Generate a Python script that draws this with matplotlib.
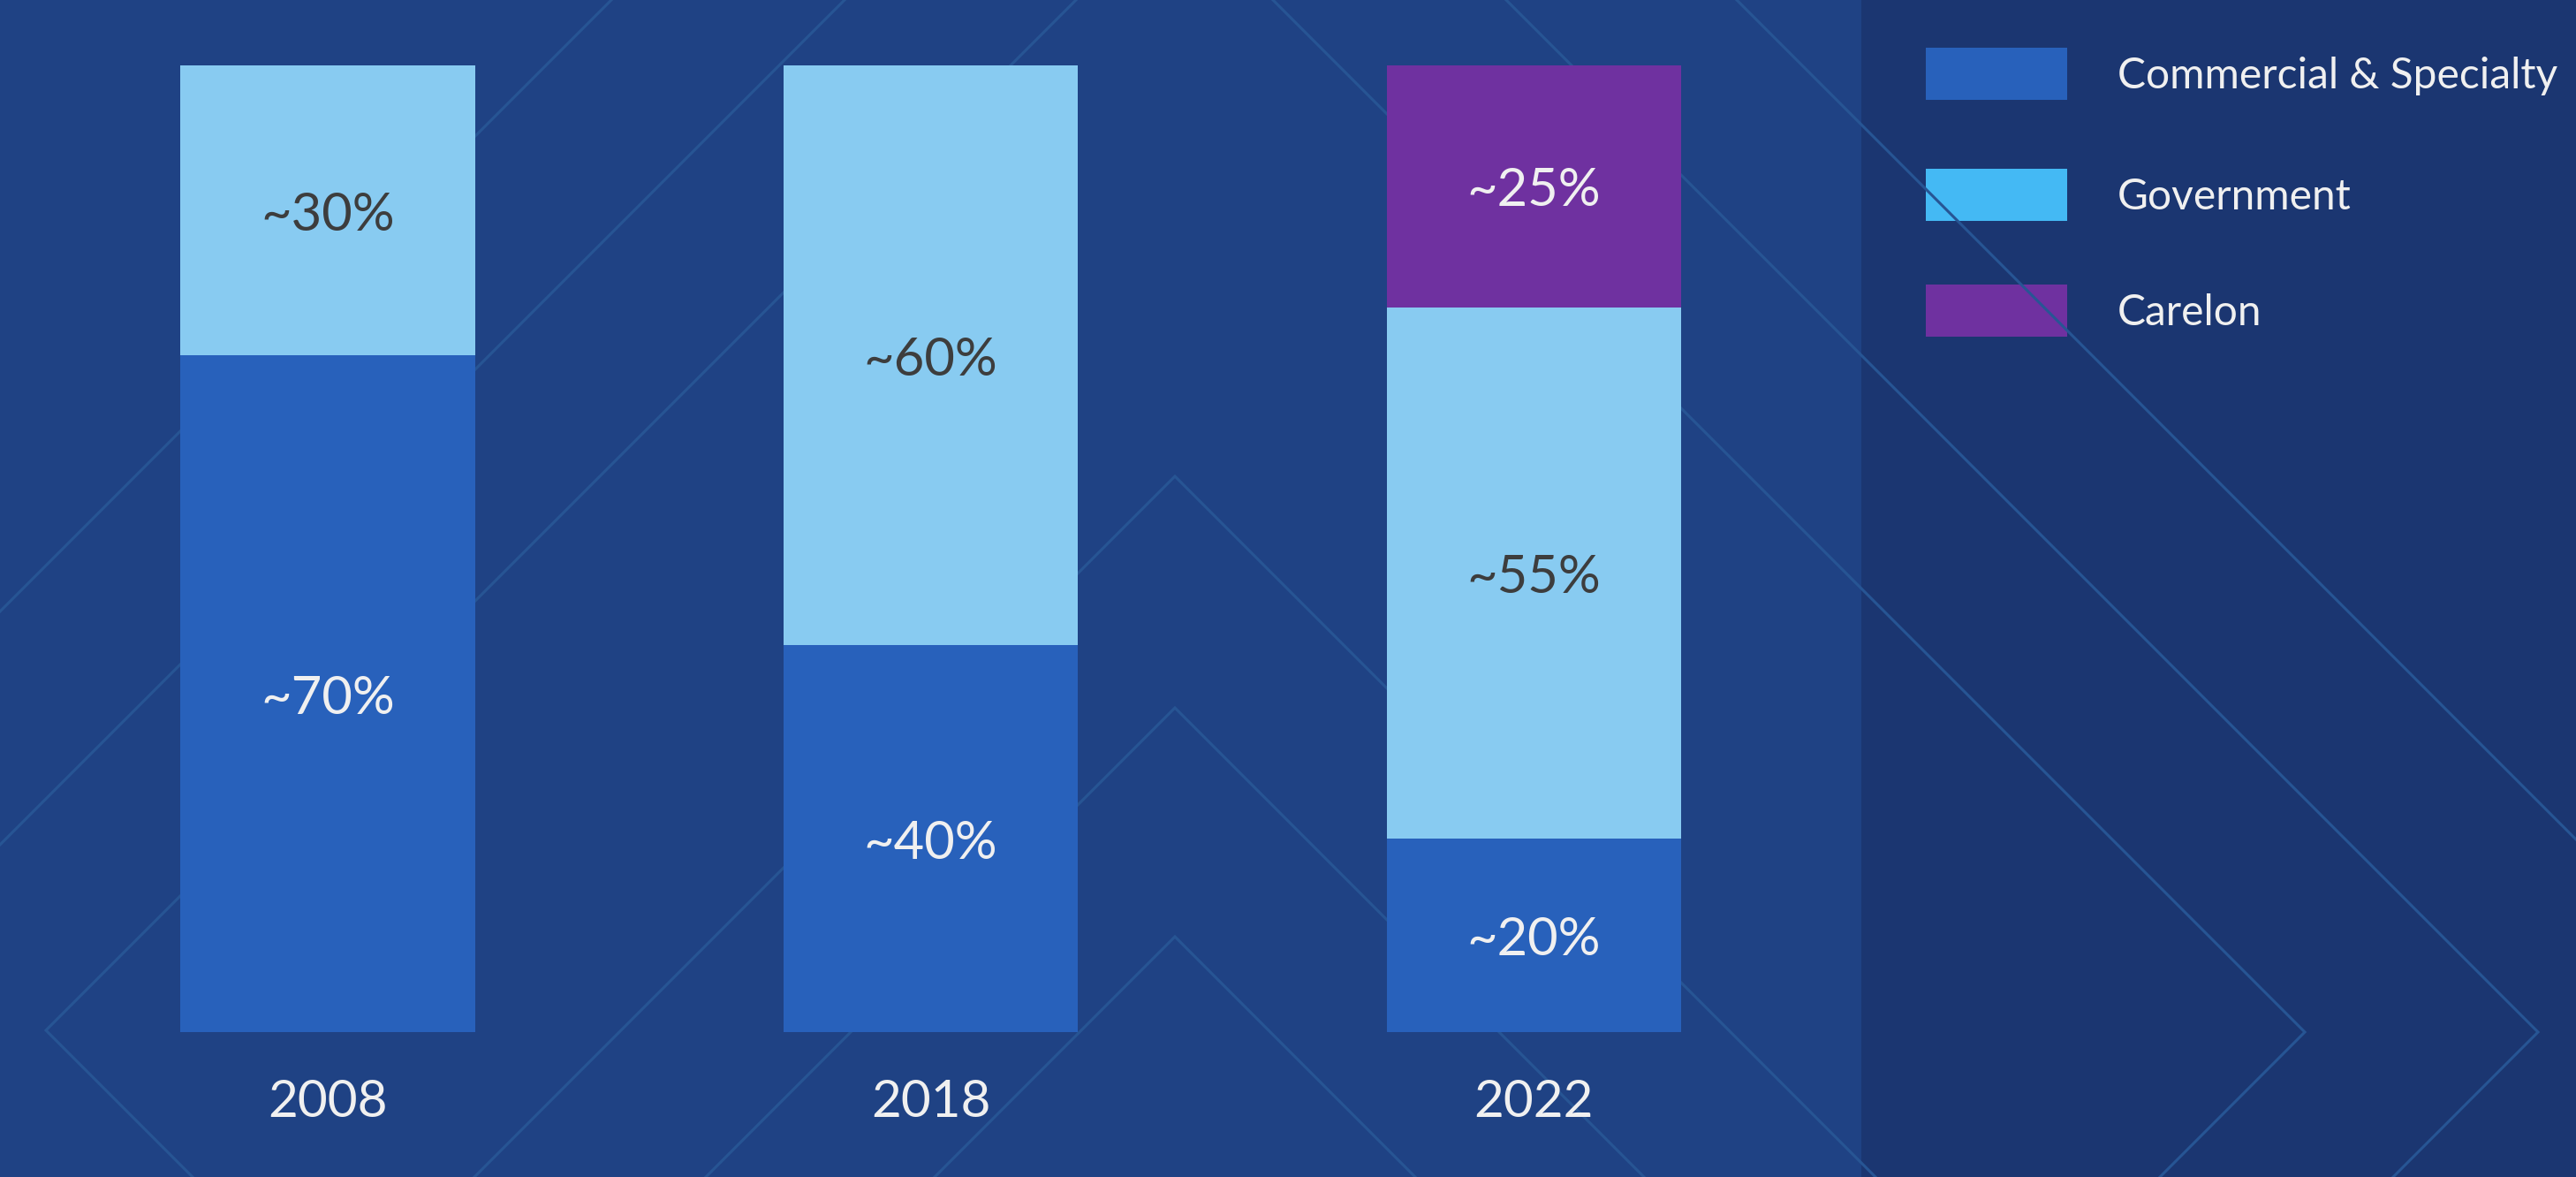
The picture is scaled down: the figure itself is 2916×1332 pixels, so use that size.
import matplotlib.pyplot as plt
from matplotlib.patches import Rectangle

plt.rcParams['font.family'] = ['Lato', 'DejaVu Sans']

years = ['2008', '2018', '2022']
commercial = [70, 40, 20]
government = [30, 60, 55]
carelon = [0, 0, 25]
series_names = ['Commercial & Specialty', 'Government', 'Carelon']

bg = '#1f4284'
panel = '#1b3671'
line_col = '#275594'
c_comm = '#2861bb'
c_gov = '#88cbf1'
c_gov_legend = '#44b9f4'
c_car = '#6f31a0'
dark_txt = '#3d3d3d'
light_txt = '#f0f0f0'

W, H = 2916, 1332
fig = plt.figure(figsize=(W / 100, H / 100), dpi=100)
fig.patch.set_facecolor(bg)

# background decoration in pixel coords
bgax = fig.add_axes([0, 0, 1, 1], zorder=0)
bgax.set_xlim(0, W)
bgax.set_ylim(H, 0)
bgax.axis('off')
bgax.add_patch(Rectangle((2107, 0), W - 2107, H, color=panel, lw=0))

deco = [
    [(0, 692), (692, 0)],
    [(0, 956), (956, 0)],
    [(218, 1332), (52, 1166), (1218, 0)],
    [(537, 1332), (1330, 539), (2123, 1332)],
    [(799, 1332), (1330, 801), (1861, 1332)],
    [(1058, 1332), (1330, 1060), (1602, 1332)],
    [(1441, 0), (2609, 1168), (2445, 1332)],
    [(1705, 0), (2873, 1168), (2709, 1332)],
    [(1966, 0), (2916, 950)],
]
for pts in deco:
    xs, ys = zip(*pts)
    bgax.plot(xs, ys, color=line_col, lw=2.2, solid_joinstyle='miter')

# legend, drawn by hand
leg_colors = [c_comm, c_gov_legend, c_car]
leg_y = [54, 191, 322]
for name, col, y in zip(series_names, leg_colors, leg_y):
    bgax.add_patch(Rectangle((2180, y), 160, 59, color=col, lw=0))
    bgax.text(2397, y + 32, name, color=light_txt, fontsize=34.5,
              va='center', ha='left')

# bars
ax = fig.add_axes([0, (H - 1168) / H, 1, (1168 - 74) / H], zorder=1)
ax.patch.set_alpha(0)
px = 682.5
ax.set_xlim(-371 / px, (W - 371) / px)
ax.set_ylim(0, 100)
x = list(range(len(years)))
width = 333 / px

ax.bar(x, commercial, width, color=c_comm, lw=0)
ax.bar(x, government, width, bottom=commercial, color=c_gov, lw=0)
bottom3 = [a + b for a, b in zip(commercial, government)]
ax.bar(x, carelon, width, bottom=bottom3, color=c_car, lw=0)

for i in x:
    segs = [(commercial[i], 0, light_txt),
            (government[i], commercial[i], dark_txt),
            (carelon[i], bottom3[i], light_txt)]
    for v, b, col in segs:
        if v > 0:
            ax.text(i, b + v / 2 - 0.5, f'~{v}%', ha='center', va='center',
                    color=col, fontsize=43)

ax.set_xticks(x)
ax.set_xticklabels(years, fontsize=42, color=light_txt)
ax.tick_params(axis='x', length=0, pad=38)
ax.set_yticks([])
for s in ax.spines.values():
    s.set_visible(False)

fig.savefig('out.png', dpi=100, facecolor=bg)
